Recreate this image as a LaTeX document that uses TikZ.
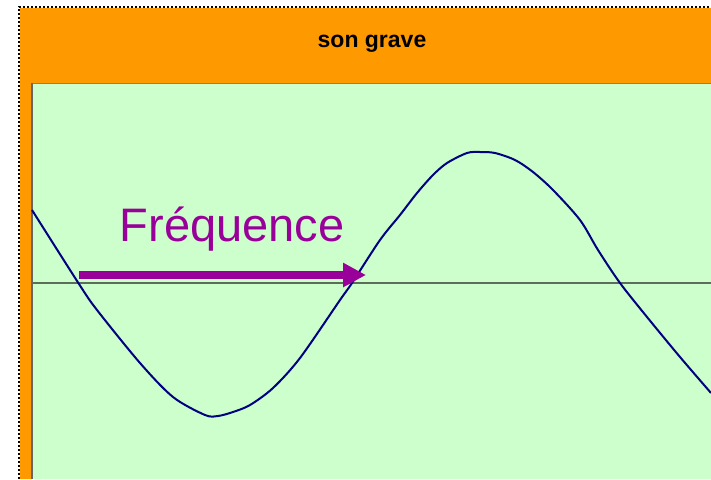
\documentclass[tikz,border=0pt]{standalone}
\usepackage{fontspec}
\setmainfont{Liberation Sans}
\usepackage{tikz}
\usetikzlibrary{arrows.meta}

\definecolor{chartorange}{HTML}{FF9900}
\definecolor{plotgreen}{HTML}{CCFFCC}
\definecolor{wavenavy}{HTML}{000080}
\definecolor{freqpurple}{HTML}{990099}
\definecolor{axisgray}{HTML}{5A6E5A}

\begin{document}
\begin{tikzpicture}[x=1pt, y=-1pt, >=stealth]
        \useasboundingbox (0,0) rectangle (711,479);

        % Define coordinates
        \coordinate (TL) at (20,8);
        \coordinate (BR) at (711,479);
        \coordinate (P) at (32,83);
        \coordinate (A0) at (32,283);
        \coordinate (A1) at (711,283);
        \coordinate (S) at (79,275);
        \coordinate (E) at (366,275);

        % Chart area and plot area
        \fill[chartorange] (TL) rectangle (BR);
        \fill[plotgreen] (P) rectangle (BR);
        \draw[gray, line width=1pt] (P) -- (P -| BR);
        \draw[black!60, line width=2pt] (P) -- (P |- BR);
        \draw[black, line width=1.3pt, dash pattern=on 2pt off 2pt] (19,479) -- (19,7) -- (711,7);

        % Title
        \node[font=\fontsize{23}{26}\selectfont\bfseries, anchor=base] (title) at (372,47) {son grave};

        % Horizontal axis
        \draw[axisgray, line width=1.5pt] (A0) -- (A1);

        % Wave
        \draw[wavenavy, line width=2pt] plot[smooth, tension=0.5] coordinates {
          (32,210) (79,284) (97,310) (140,363) (173,397) (205,415) (218,416)
          (233,412) (250,405) (273,388) (300,358) (340,300) (352,283)
          (380,240) (400,215) (417,193) (433,175) (447,163) (467,153)
          (480,152) (495,153) (515,160) (533,172) (553,190) (580,220)
          (598,250) (620,283) (647,317) (680,357) (711,393)};

        % Frequency label and arrow
        \node[text=freqpurple, font=\fontsize{47}{52}\selectfont, anchor=base] (freq) at (232,241) {Fréquence};
        \draw[freqpurple, line width=8pt, -{Triangle[length=23pt, width=23pt]}] (S) -- (E);
    \end{tikzpicture}
\end{document}
